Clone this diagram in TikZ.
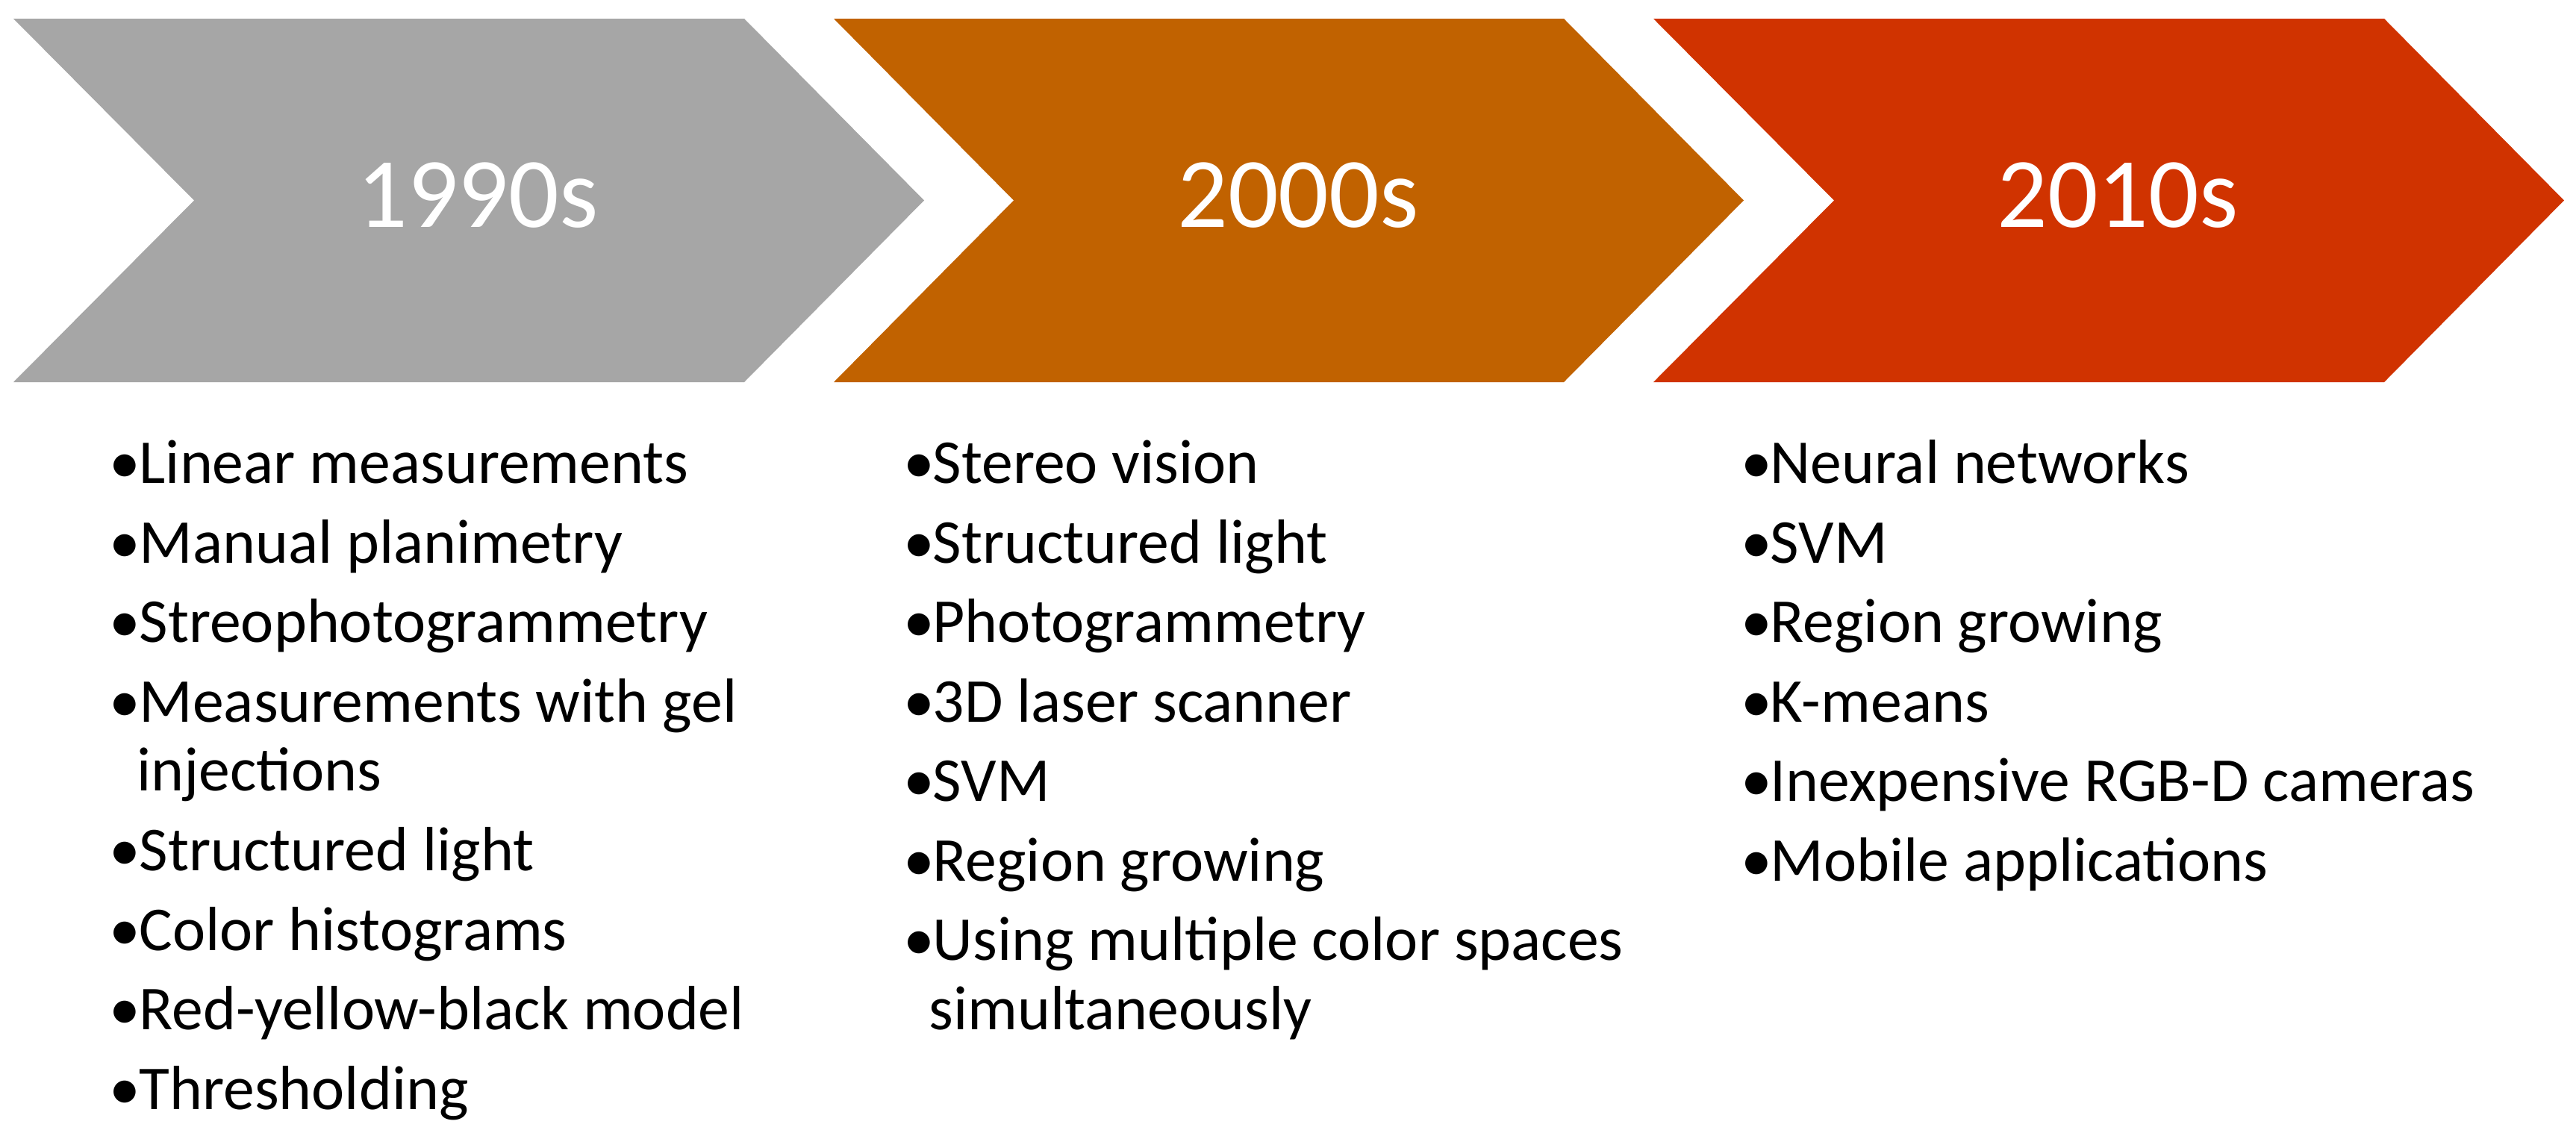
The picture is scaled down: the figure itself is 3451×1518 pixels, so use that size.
\documentclass[tikz,border=0pt]{standalone}
\usepackage{fontspec}
\setmainfont{Carlito}
\definecolor{cgray}{HTML}{A6A6A6}
\definecolor{corange}{HTML}{C16200}
\definecolor{cred}{HTML}{D03300}
\begin{document}
\begin{tikzpicture}[x=0.01cm,y=-0.01cm,
  item/.style={anchor=base west, inner sep=0, font=\fontsize{23.8}{28}\selectfont},
  bul/.style={anchor=base, inner sep=0, font=\fontsize{23.8}{28}\selectfont},
  year/.style={inner sep=0, text=white, font=\fontsize{38}{45}\selectfont}]
\useasboundingbox (0,0) rectangle (3451,1518);
% chevrons
\fill[cgray]   (18,25) -- (997,25) -- (1238,268.5) -- (997,512) -- (18,512) -- (260,268.5) -- cycle;
\fill[corange] (1117,25) -- (2095,25) -- (2336,268.5) -- (2095,512) -- (1117,512) -- (1358,268.5) -- cycle;
\fill[cred]    (2215,25) -- (3194,25) -- (3435,268.5) -- (3194,512) -- (2215,512) -- (2457,268.5) -- cycle;
\node[year] (y1) at (640,262) {1990s};
\node[year] (y2) at (1739,262) {2000s};
\node[year] (y3) at (2837,262) {2010s};
% column 1
\foreach \t/\y [count=\k] in {Linear measurements/647.5, Manual planimetry/754, Streophotogrammetry/860.5, Measurements with gel/967, Structured light/1166.5, Color histograms/1273, Red-yellow-black model/1379.5, Thresholding/1486}{
  \node[bul] (b1\k) at (167.5,\y) {•};
  \node[item] (a1\k) at (186,\y) {\t};
}
\node[item] (a1w) at (183,1059) {injections};
% column 2
\foreach \t/\y [count=\k] in {Stereo vision/647.5, Structured light/754, Photogrammetry/860.5, 3D laser scanner/967, SVM/1073.5, Region growing/1180, Using multiple color spaces/1286.5}{
  \node[bul] (b2\k) at (1231,\y) {•};
  \node[item] (a2\k) at (1249,\y) {\t};
}
\node[item] (a2w) at (1244,1379) {simultaneously};
% column 3
\foreach \t/\y [count=\k] in {Neural networks/647.5, SVM/754, Region growing/860.5, K-means/967, Inexpensive RGB-D cameras/1073.5, Mobile applications/1180}{
  \node[bul] (b3\k) at (2353,\y) {•};
  \node[item] (a3\k) at (2371,\y) {\t};
}
\end{tikzpicture}
\end{document}
